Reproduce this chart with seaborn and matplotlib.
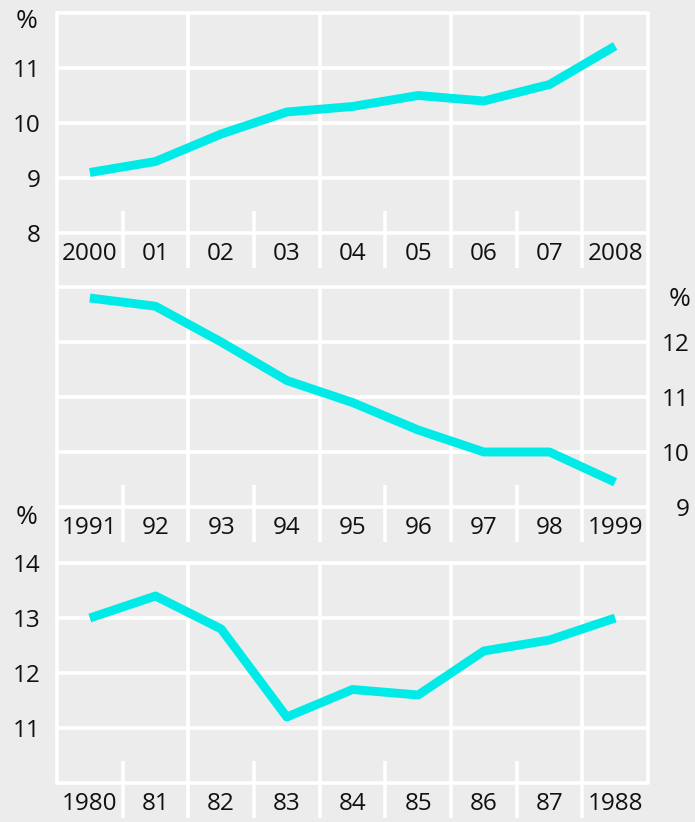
import matplotlib
matplotlib.use("Agg")
import matplotlib.pyplot as plt
import matplotlib.transforms as mtransforms
from matplotlib.lines import Line2D
import seaborn as sns
import pandas as pd

# ---- data ----
top_labels = ["2000", "01", "02", "03", "04", "05", "06", "07", "2008"]
top_values = [9.1, 9.3, 9.8, 10.2, 10.3, 10.5, 10.4, 10.7, 11.4]
top_yticks = [8, 9, 10, 11]

mid_labels = ["1991", "92", "93", "94", "95", "96", "97", "98", "1999"]
mid_values = [12.8, 12.65, 12.0, 11.3, 10.9, 10.4, 10.0, 10.0, 9.45]
mid_yticks = [9, 10, 11, 12]

bot_labels = ["1980", "81", "82", "83", "84", "85", "86", "87", "1988"]
bot_values = [13.0, 13.4, 12.8, 11.2, 11.7, 11.6, 12.4, 12.6, 13.0]
bot_yticks = [11, 12, 13, 14]

unit_label = "%"

# ---- style ----
sns.set_theme(style="white")
plt.rcParams["font.family"] = ["Open Sans", "DejaVu Sans"]
BG = "#ececec"
WHITE = "#ffffff"
CYAN = "#00ebe8"
TXT = "#111111"
FS = 17.5
FS_PCT = 19

W, H, DPI = 695, 822, 100
fig = plt.figure(figsize=(W / DPI, H / DPI), dpi=DPI)
fig.patch.set_facecolor(BG)

X0, X1 = 57, 648
PLOT_H = 220
BAND = 35  # label band below each plot (px)
panels = [
    dict(top=13, labels=top_labels, values=top_values, yticks=top_yticks, ylim=(8, 12), side="left"),
    dict(top=287, labels=mid_labels, values=mid_values, yticks=mid_yticks, ylim=(9, 13), side="right"),
    dict(top=563, labels=bot_labels, values=bot_values, yticks=bot_yticks, ylim=(10, 14), side="left"),
]

GRID_LW = 2.6

for i, p in enumerate(panels):
    ax = fig.add_axes([X0 / W, 1 - (p["top"] + PLOT_H) / H, (X1 - X0) / W, PLOT_H / H])
    ax.set_facecolor(BG)
    for s in ax.spines.values():
        s.set_visible(False)
    n = len(p["labels"])
    df = pd.DataFrame({"pos": list(range(n)), "value": p["values"]})
    ax.set_xlim(-0.5, n - 0.5)
    ax.set_ylim(*p["ylim"])

    # horizontal white lines
    lo, hi = p["ylim"]
    for v in range(lo, hi + 1):
        ax.axhline(v, color=WHITE, lw=GRID_LW, zorder=1, clip_on=False)

    trans = mtransforms.blended_transform_factory(ax.transData, ax.transAxes)
    band = -BAND / PLOT_H
    # full separators every two years
    for xv in [1.5, 3.5, 5.5, 7.5]:
        ax.plot([xv, xv], [1, band], color=WHITE, lw=GRID_LW, transform=trans,
                clip_on=False, zorder=1, solid_capstyle="butt")
    # short separators in the label band
    for xv in [0.5, 2.5, 4.5, 6.5]:
        ax.plot([xv, xv], [22 / PLOT_H, band], color=WHITE, lw=GRID_LW, transform=trans,
                clip_on=False, zorder=1, solid_capstyle="butt")

    sns.lineplot(data=df, x="pos", y="value", ax=ax, color=CYAN, lw=6.4, zorder=3,
                 solid_capstyle="butt")

    # x labels in the band
    ax.set_xticks(range(n))
    ax.set_xticklabels(p["labels"], fontsize=FS, color=TXT)
    ax.tick_params(axis="x", length=0, pad=6.5)
    ax.set_xlabel("")
    ax.set_ylabel("")

    ax.set_yticks(p["yticks"])
    ax.set_yticklabels([str(t) for t in p["yticks"]], fontsize=FS, color=TXT)
    if p["side"] == "left":
        ax.tick_params(axis="y", length=0, pad=11.5)
        ypct = 1 - 9 / PLOT_H if i == 0 else 1 + 45 / PLOT_H
        ax.text(-(X0 - 37) / (X1 - X0), ypct, unit_label, transform=ax.transAxes,
                ha="right", va="center", fontsize=FS_PCT, color=TXT)
    else:
        ax.yaxis.tick_right()
        ax.tick_params(axis="y", length=0, pad=30)
        for lab in ax.get_yticklabels():
            lab.set_horizontalalignment("right")
        ax.text(1 + (690 - X1) / (X1 - X0), 1 - 12 / PLOT_H, unit_label, transform=ax.transAxes,
                ha="right", va="center", fontsize=FS_PCT, color=TXT)

# outer frame left/right borders
for xp in (X0, X1):
    fig.add_artist(Line2D([xp / W, xp / W], [1 - 13 / H, 1 - 783 / H], color=WHITE,
                          lw=GRID_LW, transform=fig.transFigure, zorder=0.5))

fig.savefig("out.png", dpi=DPI, facecolor=BG)
